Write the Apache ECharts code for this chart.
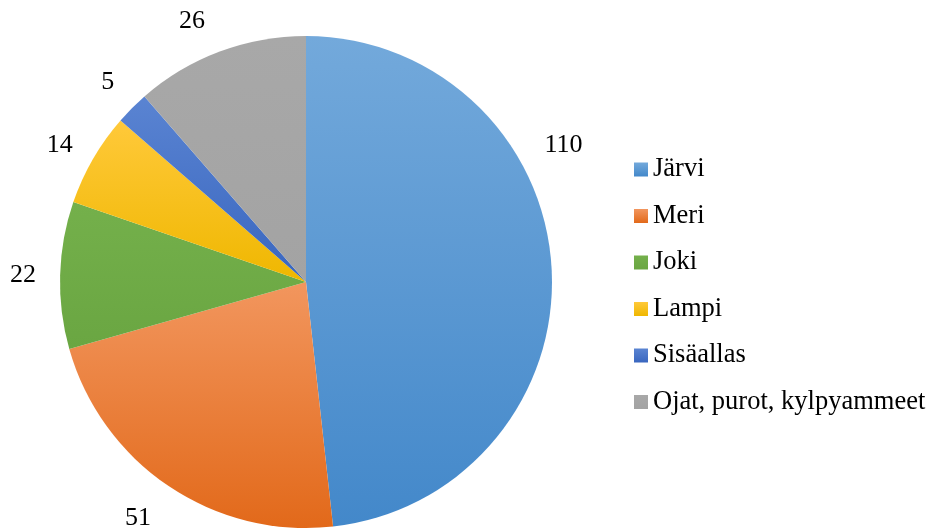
<!DOCTYPE html>
<html>
<head>
<meta charset="utf-8">
<script src="https://cdn.jsdelivr.net/npm/echarts@6/dist/echarts.min.js"></script>
<style>
  html, body { margin: 0; padding: 0; background: #fff; }
  #chart { width: 931px; height: 530px; }
</style>
</head>
<body>
<div id="chart"></div>
<script>
// data
var names = ['Järvi', 'Meri', 'Joki', 'Lampi', 'Sisäallas', 'Ojat, purot, kylpyammeet']
var values = [110, 51, 22, 14, 5, 26]

// slice gradient colours (top -> bottom)
var topColors = ['#73a9db', '#f2965e', '#74b04b', '#ffc93a', '#5a84d2', '#a8a8a8']
var bottomColors = ['#4388ca', '#e2691a', '#6aa642', '#efb700', '#3966bf', '#a3a3a3']
// small nudges so the labels sit where the original has them
var labelOffsets = [[-37, -122], [0, 9], [6, 1], [6, 0], [4, -6], [-3, -4]]

var font = "'Liberation Serif', 'Times New Roman', serif"

var pieData = []
for (var i = 0; i < names.length; i++) {
  pieData.push({
    name: names[i],
    value: values[i],
    itemStyle: {
      color: new echarts.graphic.LinearGradient(0, 0, 0, 1, [
        { offset: 0, color: topColors[i] },
        { offset: 1, color: bottomColors[i] }
      ])
    },
    label: { offset: labelOffsets[i] }
  })
}

var myChart = echarts.init(document.getElementById('chart'))
var option = {
  animation: false,
  backgroundColor: '#fff',
  legend: {
    orient: 'vertical',
    left: 629,
    top: 151,
    itemWidth: 14,
    itemHeight: 14,
    itemGap: 19.5,
    icon: 'rect',
    textStyle: {
      fontFamily: font,
      fontSize: 26.5,
      lineHeight: 26,
      color: '#000'
    },
    data: names
  },
  series: [
    {
      type: 'pie',
      center: [306, 282],
      radius: 246,
      startAngle: 90,
      clockwise: true,
      avoidLabelOverlap: false,
      itemStyle: { borderWidth: 0 },
      label: {
        show: true,
        position: 'outside',
        formatter: '{c}',
        fontFamily: font,
        fontSize: 26,
        color: '#000',
        distanceToLabelLine: 2
      },
      labelLine: { show: false, length: 28, length2: 0 },
      emphasis: { disabled: true },
      data: pieData
    }
  ]
}
myChart.setOption(option)
</script>
</body>
</html>
